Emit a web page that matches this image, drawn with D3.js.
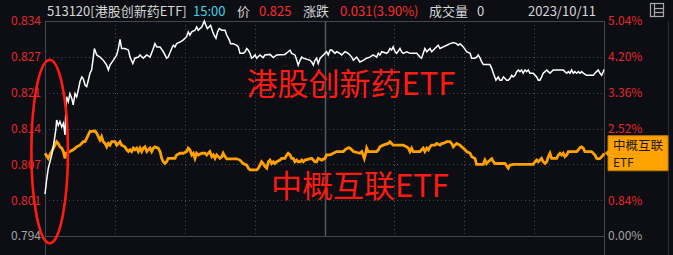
<!DOCTYPE html>
<html>
<head>
<meta charset="utf-8">
<script src="https://cdn.jsdelivr.net/npm/d3@7"></script>
<style>
  html, body { margin: 0; padding: 0; background: #0c0e13; }
  svg { display: block; }
</style>
</head>
<body>
<svg id="chart" width="673" height="255"></svg>
<script>
// quote header
const code = "513120", name = "港股创新药ETF", quoteTime = "15:00";
const lastPrice = 0.825, change = 0.031, changePct = 3.90, volume = 0;
const tradeDate = "2023/10/11";
const prevClose = 0.794;

// right axis ticks (percent), left ticks derived from prevClose
const pctTicks = [0, 0.84, 1.68, 2.52, 3.36, 4.20, 5.04];
// minutes from 9:30, every half hour (120 = lunch break)
const timeTicks = [30, 60, 90, 120, 150, 180, 210];

// [minute, price] for 港股创新药ETF
const etfSeries = [
  [0,0.8018],[0.7,0.8044],[1.4,0.8066],[2.9,0.8091],[3.9,0.8115],[4.7,0.8140],[5.0,0.8156],[5.7,0.8146],[6.4,0.8153],[7.2,0.8143],
  [7.9,0.8150],[8.6,0.8128],[9.0,0.8180],[9.3,0.8199],[10.0,0.8190],[10.7,0.8205],[11.5,0.8196],[12.1,0.8184],[12.9,0.8205],[13.6,0.8199],
  [14.3,0.8212],[15.0,0.8227],[15.8,0.8236],[16.4,0.8233],[17.2,0.8221],[17.9,0.8218],[18.6,0.8230],[19.3,0.8243],[20.0,0.8249],[20.7,0.8271],
  [21.2,0.8289],[22.2,0.8277],[23.6,0.8273],[25.0,0.8267],[26.5,0.8258],[27.2,0.8249],[27.9,0.8258],[29.3,0.8267],[30.8,0.8277],[31.5,0.8289],
  [32.2,0.8306],[32.9,0.8289],[34.3,0.8289],[35.8,0.8286],[36.5,0.8273],[37.7,0.8261],[38.6,0.8271],[40.1,0.8273],[40.8,0.8277],[42.2,0.8271],
  [43.7,0.8277],[45.1,0.8273],[46.5,0.8289],[47.2,0.8298],[48.0,0.8292],[49.4,0.8292],[50.8,0.8283],[52.2,0.8271],[52.9,0.8273],[54.4,0.8289],
  [55.1,0.8295],[55.8,0.8292],[56.5,0.8298],[58.0,0.8301],[59.4,0.8305],[60.8,0.8311],[61.5,0.8320],[62.2,0.8314],[63.0,0.8320],[64.4,0.8323],
  [65.1,0.8329],[65.8,0.8323],[66.5,0.8326],[67.3,0.8329],[68.0,0.8336],[68.4,0.8340],[69.1,0.8332],[69.7,0.8326],[70.4,0.8329],[71.1,0.8332],
  [72.0,0.8320],[72.6,0.8314],[73.4,0.8308],[74.1,0.8320],[74.8,0.8326],[75.9,0.8323],[77.3,0.8323],[78.0,0.8314],[79.1,0.8305],[79.7,0.8298],
  [80.8,0.8298],[82.3,0.8295],[83.0,0.8292],[83.7,0.8280],[85.1,0.8280],[85.9,0.8283],[86.6,0.8289],[87.3,0.8286],[88.0,0.8280],[88.7,0.8271],
  [89.4,0.8273],[90.2,0.8277],[90.9,0.8271],[92.3,0.8277],[93.7,0.8272],[94.4,0.8277],[96.6,0.8278],[98.0,0.8272],[99.5,0.8277],[103.0,0.8278],
  [104.4,0.8283],[105.2,0.8286],[105.9,0.8280],[107.3,0.8277],[108.1,0.8267],[108.7,0.8258],[109.5,0.8267],[110.2,0.8273],[110.9,0.8271],[113.8,0.8267],
  [114.5,0.8264],[115.2,0.8258],[115.9,0.8267],[116.6,0.8271],[117.3,0.8261],[118.1,0.8271],[119.5,0.8277],[120.9,0.8283],[121.6,0.8277],[122.4,0.8286],
  [123.1,0.8286],[124.5,0.8280],[125.2,0.8283],[126.6,0.8280],[127.4,0.8277],[128.8,0.8283],[130.2,0.8280],[131.7,0.8273],[132.4,0.8267],[133.8,0.8273],
  [135.2,0.8264],[136.6,0.8267],[138.1,0.8271],[139.5,0.8273],[140.9,0.8277],[142.4,0.8273],[143.1,0.8280],[143.8,0.8277],[144.6,0.8283],[146.7,0.8280],
  [147.4,0.8283],[148.1,0.8289],[148.8,0.8286],[149.5,0.8292],[150.3,0.8283],[151.0,0.8280],[152.4,0.8289],[153.1,0.8283],[153.8,0.8280],[155.3,0.8283],
  [156.7,0.8280],[159.6,0.8280],[161.0,0.8273],[161.7,0.8271],[162.4,0.8280],[163.1,0.8289],[163.9,0.8283],[164.6,0.8286],[165.3,0.8289],[166.0,0.8283],
  [167.4,0.8289],[168.8,0.8295],[169.6,0.8289],[171.0,0.8292],[172.5,0.8295],[173.9,0.8298],[175.3,0.8300],[176.7,0.8298],[177.4,0.8295],[178.2,0.8298],
  [179.6,0.8292],[181.0,0.8283],[182.5,0.8280],[183.2,0.8271],[184.6,0.8271],[185.3,0.8273],[186.0,0.8277],[186.8,0.8271],[187.5,0.8264],[188.2,0.8259],
  [191.0,0.8259],[191.8,0.8252],[192.5,0.8243],[193.6,0.8230],[194.6,0.8236],[195.3,0.8230],[196.1,0.8230],[196.8,0.8236],[197.5,0.8233],[198.2,0.8230],
  [198.9,0.8230],[199.6,0.8233],[200.4,0.8239],[201.0,0.8236],[201.8,0.8239],[202.5,0.8246],[203.2,0.8249],[203.9,0.8246],[204.6,0.8249],[205.3,0.8243],
  [206.1,0.8249],[206.8,0.8246],[207.5,0.8249],[208.2,0.8243],[209.6,0.8243],[211.1,0.8236],[211.8,0.8230],[212.5,0.8230],[213.2,0.8236],[213.9,0.8243],
  [214.7,0.8246],[215.4,0.8249],[216.1,0.8246],[216.8,0.8243],[218.2,0.8249],[222.5,0.8249],[223.2,0.8246],[224.0,0.8243],[224.7,0.8246],[225.4,0.8243],
  [226.1,0.8249],[226.8,0.8243],[227.5,0.8246],[228.3,0.8243],[229.0,0.8246],[229.7,0.8243],[230.4,0.8246],[231.1,0.8243],[232.5,0.8239],[235.4,0.8239],
  [236.1,0.8243],[236.8,0.8246],[237.5,0.8249],[238.3,0.8243],[239.0,0.8239],[239.7,0.8246],[240,0.8250]
];

// [minute, % change] for 中概互联ETF
const cnSeries = [
  [0,1.94],[1.4,1.82],[2.1,1.90],[2.9,1.98],[3.6,2.06],[4.3,2.13],[5.0,2.21],[5.7,2.17],[6.4,2.09],[7.2,2.06],
  [7.9,1.98],[8.6,1.82],[9.0,1.94],[10.7,1.98],[12.1,2.02],[13.6,2.09],[15.0,2.13],[16.4,2.21],[17.2,2.21],[17.9,2.29],
  [18.6,2.37],[19.3,2.45],[21.5,2.46],[22.2,2.41],[22.9,2.33],[23.6,2.25],[24.3,2.33],[25.0,2.21],[25.8,2.17],[26.5,2.09],
  [27.2,2.17],[27.9,2.13],[28.6,2.21],[30.1,2.21],[30.8,2.13],[31.5,2.17],[32.2,2.21],[32.9,2.13],[34.3,2.09],[35.1,2.02],
  [35.8,1.98],[36.5,2.02],[37.2,1.98],[37.9,2.06],[38.6,2.02],[39.4,2.06],[40.1,1.98],[40.8,2.06],[41.5,1.98],[42.2,2.06],
  [42.9,2.09],[43.7,1.98],[44.3,2.02],[45.1,2.06],[45.8,1.98],[46.5,2.06],[47.2,2.09],[48.6,2.06],[49.4,1.98],[50.1,1.82],
  [50.8,1.74],[51.5,1.70],[52.2,1.74],[52.9,1.82],[55.8,1.82],[56.5,1.90],[58.0,1.94],[59.4,1.94],[60.8,1.98],[61.5,2.06],
  [62.2,2.02],[63.0,1.90],[63.7,1.94],[64.4,1.82],[65.1,1.94],[65.8,1.90],[67.3,1.94],[68.7,1.94],[69.4,1.90],[70.8,1.98],
  [71.6,1.86],[72.3,1.90],[73.0,1.82],[73.7,1.90],[74.4,1.86],[75.1,1.82],[75.9,1.86],[76.5,1.94],[77.3,1.86],[78.0,1.81],
  [82.3,1.81],[83.7,1.78],[85.1,1.70],[86.6,1.66],[87.3,1.59],[88.0,1.55],[90.9,1.55],[91.6,1.59],[92.3,1.66],[93.0,1.74],
  [93.7,1.70],[94.4,1.63],[95.2,1.59],[95.9,1.74],[96.6,1.78],[97.3,1.70],[98.0,1.74],[98.7,1.70],[99.5,1.74],[100.9,1.78],
  [101.6,1.82],[103.0,1.82],[103.8,1.90],[104.4,1.94],[105.2,1.90],[105.9,1.82],[106.6,1.82],[107.3,1.74],[108.1,1.78],[108.7,1.74],
  [109.5,1.74],[110.2,1.78],[110.9,1.74],[111.6,1.78],[114.5,1.82],[115.2,1.78],[115.9,1.74],[116.6,1.74],[117.3,1.82],[118.8,1.78],
  [120.2,1.82],[120.9,1.90],[122.4,1.90],[123.8,1.94],[125.2,1.98],[128.1,1.98],[128.8,2.02],[130.2,2.07],[130.9,2.06],[131.7,2.02],
  [132.4,1.98],[135.2,1.94],[136.0,1.98],[136.6,1.90],[137.1,1.82],[137.7,1.94],[138.1,2.06],[138.8,1.98],[142.4,1.98],[143.1,2.02],
  [143.8,2.09],[145.2,2.13],[147.4,2.17],[148.1,2.21],[148.8,2.17],[149.5,2.13],[153.8,2.13],[155.3,2.09],[156.0,2.06],[156.7,1.98],
  [157.4,2.06],[158.1,1.98],[161.0,1.98],[161.7,2.02],[162.4,2.06],[163.1,1.98],[163.9,2.06],[164.6,2.02],[165.3,2.09],[166.0,2.13],
  [167.4,2.13],[168.2,2.17],[169.6,2.13],[170.3,2.17],[171.0,2.17],[172.5,2.21],[173.9,2.21],[174.6,2.17],[175.3,2.09],[176.0,2.13],
  [176.7,2.17],[178.2,2.13],[178.9,2.09],[179.6,2.06],[181.0,1.98],[182.5,1.94],[183.2,1.86],[184.6,1.82],[185.3,1.68],[188.2,1.68],
  [188.9,1.78],[189.6,1.70],[190.3,1.74],[191.8,1.81],[192.5,1.74],[193.2,1.70],[197.5,1.70],[198.9,1.59],[199.6,1.66],[201.0,1.68],
  [209.6,1.68],[210.4,1.74],[211.1,1.78],[211.8,1.74],[212.5,1.78],[213.2,1.82],[213.9,1.74],[214.7,1.70],[215.4,1.74],[216.1,1.86],
  [216.8,1.94],[217.5,1.82],[219.7,1.82],[220.4,1.90],[221.1,1.94],[221.8,1.90],[222.5,1.94],[223.2,1.86],[224.0,1.90],[224.7,1.98],
  [228.3,1.98],[229.0,2.02],[229.7,2.07],[230.4,2.09],[231.1,2.06],[231.8,1.98],[234.6,1.98],[235.4,1.94],[236.1,1.90],[236.8,1.82],
  [237.5,1.81],[238.3,1.82],[239.0,1.86],[239.7,1.90],[240,1.94]
];

const svg = d3.select("#chart");
const W = +svg.attr("width"), H = +svg.attr("height");
const margin = { left: 45, right: 69, top: 21, bottom: 19 };
const plotR = W - margin.right, plotB = H - margin.bottom;

const RED = "#e8262c", GRAY = "#a3a3a3", CJK = "'Noto Sans CJK SC', 'Noto Sans', sans-serif";

const x = d3.scaleLinear().domain([0, 240]).range([margin.left, plotR]);
const yPct = d3.scaleLinear().domain([0, d3.max(pctTicks)]).range([plotB, margin.top]);
const yPrice = d3.scaleLinear()
  .domain([prevClose, prevClose * (1 + d3.max(pctTicks) / 100)])
  .range([plotB, margin.top]);
const priceTicks = pctTicks.map(p => prevClose * (1 + p / 100));

svg.append("rect").attr("width", W).attr("height", H).attr("fill", "#0c0e13");

// horizontal dotted grid
svg.append("g")
  .selectAll("line")
  .data(pctTicks.slice(1, -1))
  .join("line")
  .attr("x1", margin.left).attr("x2", plotR)
  .attr("y1", d => Math.round(yPct(d)) + 0.5).attr("y2", d => Math.round(yPct(d)) + 0.5)
  .attr("stroke", "#4a4d55").attr("stroke-dasharray", "1,3");

// vertical grid, solid at lunch break
svg.append("g")
  .selectAll("line")
  .data(timeTicks)
  .join("line")
  .attr("x1", d => Math.round(x(d)) + 0.5).attr("x2", d => Math.round(x(d)) + 0.5)
  .attr("y1", margin.top).attr("y2", plotB)
  .attr("stroke", d => d === 120 ? "#55585f" : "#4a4d55")
  .attr("stroke-width", d => d === 120 ? 1.5 : 1)
  .attr("stroke-dasharray", d => d === 120 ? null : "1,3");

// frame
const frame = svg.append("g").attr("stroke", "#44474e").attr("fill", "none");
frame.append("line").attr("x1", margin.left + 0.5).attr("x2", margin.left + 0.5).attr("y1", margin.top).attr("y2", H);
frame.append("line").attr("x1", plotR + 0.5).attr("x2", plotR + 0.5).attr("y1", margin.top).attr("y2", H);
frame.append("line").attr("x1", margin.left).attr("x2", plotR).attr("y1", margin.top + 0.5).attr("y2", margin.top + 0.5);
frame.append("line").attr("x1", margin.left).attr("x2", plotR).attr("y1", plotB + 0.5).attr("y2", plotB + 0.5);
frame.append("line").attr("x1", 668.5).attr("x2", 668.5).attr("y1", margin.top).attr("y2", H).attr("stroke", "#2a2c31");

// tag for the comparison series sits on its last value and hides the tick under it
const lastCn = cnSeries[cnSeries.length - 1][1];
const tagY = yPct(lastCn);
const visiblePct = pctTicks.filter(p => Math.abs(yPct(p) - tagY) > 18);

// axes
const leftAxis = svg.append("g")
  .attr("transform", `translate(${margin.left},0)`)
  .call(d3.axisLeft(yPrice).tickValues(priceTicks).tickFormat(d3.format(".3f")).tickSize(0).tickPadding(4));
const rightAxis = svg.append("g")
  .attr("transform", `translate(${plotR},0)`)
  .call(d3.axisRight(yPct).tickValues(visiblePct).tickFormat(d => d.toFixed(2) + "%").tickSize(0).tickPadding(4));
[leftAxis, rightAxis].forEach(function (g) {
  g.select(".domain").remove();
  g.selectAll("text")
    .attr("font-family", CJK)
    .attr("font-size", 12)
    .attr("fill", d => (d === 0 || d === prevClose) ? GRAY : RED);
});

// lines
const etfLine = d3.line().x(d => x(d[0])).y(d => yPrice(d[1]));
const cnLine = d3.line().x(d => x(d[0])).y(d => yPct(d[1]));

svg.append("path").datum(cnSeries)
  .attr("d", cnLine)
  .attr("fill", "none").attr("stroke", "#ffa200").attr("stroke-width", 2.8);
svg.append("path").datum(etfSeries)
  .attr("d", etfLine)
  .attr("fill", "none").attr("stroke", "#ffffff").attr("stroke-width", 1.5);

const tag = svg.append("g").attr("transform", `translate(608,${tagY})`);
tag.append("path")
  .attr("d", "M0,-17.5 H60 V17.5 H0 V3 L-3,0 L0,-3 Z")
  .attr("fill", "#ffa200").attr("stroke", "#c47a00");
tag.append("text").attr("x", 5).attr("y", -3).text("中概互联")
  .attr("font-family", CJK).attr("font-size", 12.5).attr("fill", "#1a1a1a");
tag.append("text").attr("x", 5).attr("y", 14).text("ETF")
  .attr("font-family", "'Noto Sans', sans-serif").attr("font-size", 12.5).attr("fill", "#1a1a1a");

// header
const header = svg.append("g").attr("font-family", CJK).attr("font-size", 13);
const headerItems = [
  { t: `${code}[${name}]`, x: 47, c: "#d6d6d6" },
  { t: quoteTime, x: 193, c: "#3dd3e6" },
  { t: "价", x: 237, c: "#d6d6d6" },
  { t: lastPrice.toFixed(3), x: 259, c: "#ff2b2b" },
  { t: "涨跌", x: 303, c: "#d6d6d6" },
  { t: `${change.toFixed(3)}(${changePct.toFixed(2)}%)`, x: 340, c: "#ff2b2b" },
  { t: "成交量", x: 429, c: "#d6d6d6" },
  { t: String(volume), x: 477, c: "#d6d6d6" },
  { t: tradeDate, x: 528, c: "#d6d6d6" }
];
header.selectAll("text").data(headerItems).join("text")
  .attr("x", d => d.x).attr("y", 16).attr("fill", d => d.c).text(d => d.t);

// layout icon top right
const icon = svg.append("g").attr("stroke", "#a8a8a8").attr("fill", "none").attr("stroke-width", 1.2);
icon.append("rect").attr("x", 650.5).attr("y", 3.5).attr("width", 13).attr("height", 13);
icon.append("line").attr("x1", 654.5).attr("x2", 654.5).attr("y1", 3.5).attr("y2", 16.5);
icon.append("line").attr("x1", 654.5).attr("x2", 663.5).attr("y1", 8.5).attr("y2", 8.5);
icon.append("line").attr("x1", 654.5).attr("x2", 663.5).attr("y1", 12.5).attr("y2", 12.5);

// red annotations
const note = svg.append("g").attr("font-family", CJK).attr("fill", "#ff1a12").attr("font-size", 31);
note.append("text").attr("x", x(86.5)).attr("y", 95).text(name);
note.append("text").attr("x", x(97)).attr("y", 197).text("中概互联ETF");

svg.append("ellipse")
  .attr("cx", x(2)).attr("cy", yPct(1.98))
  .attr("rx", 18.3).attr("ry", 91.7)
  .attr("fill", "none").attr("stroke", "#ff1a12").attr("stroke-width", 2.6);
</script>
</body>
</html>
